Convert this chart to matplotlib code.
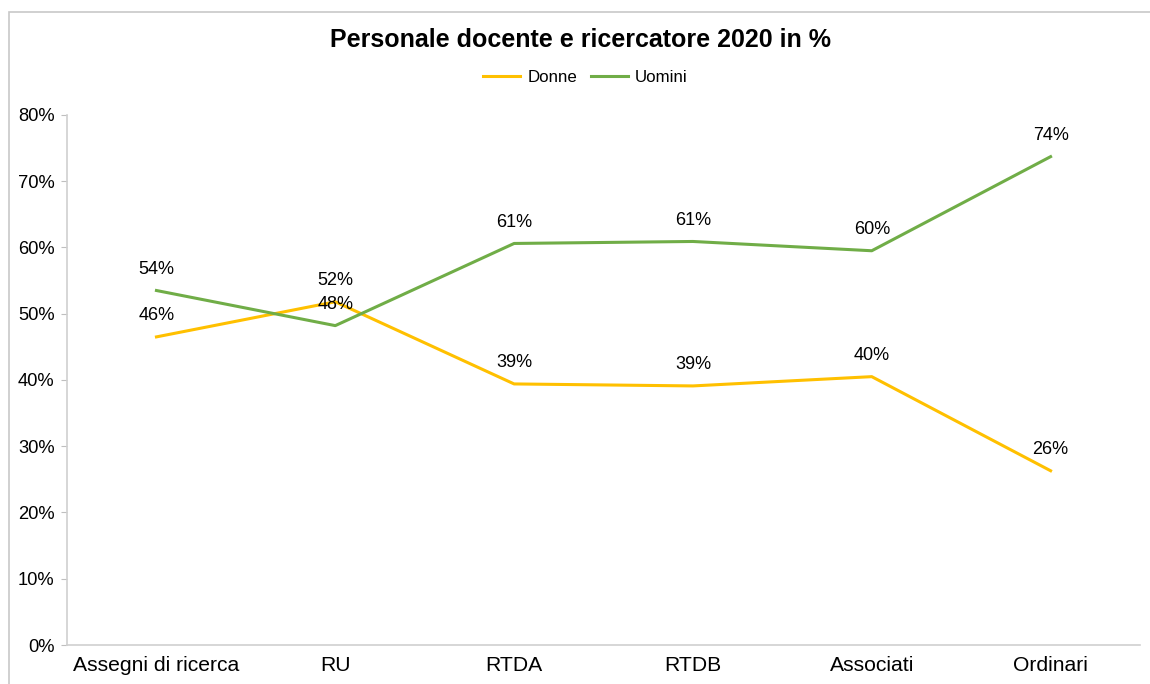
import matplotlib.pyplot as plt
from matplotlib.patches import Rectangle

plt.rcParams['font.family'] = ['Liberation Sans', 'DejaVu Sans']

# Dati
categorie = ['Assegni di ricerca', 'RU', 'RTDA', 'RTDB', 'Associati', 'Ordinari']
donne = [46.5, 51.8, 39.4, 39.1, 40.5, 26.3]
uomini = [53.5, 48.2, 60.6, 60.9, 59.5, 73.7]
etichette_donne = ['46%', '52%', '39%', '39%', '40%', '26%']
etichette_uomini = ['54%', '48%', '61%', '61%', '60%', '74%']

fig = plt.figure(figsize=(11.5, 6.84), dpi=100)
ax = fig.add_axes([0.0583, 0.057, 0.933, 0.775])

x = range(len(categorie))
ax.plot(x, donne, color='#FFC000', linewidth=2.2, label='Donne')
ax.plot(x, uomini, color='#70AD47', linewidth=2.2, label='Uomini')

# Etichette dati
for i in x:
    ax.annotate(etichette_donne[i], (i, donne[i]), xytext=(0, 9), textcoords='offset points',
                ha='center', va='bottom', fontsize=13)
    ax.annotate(etichette_uomini[i], (i, uomini[i]), xytext=(0, 9), textcoords='offset points',
                ha='center', va='bottom', fontsize=13)

ax.set_xlim(-0.5, len(categorie) - 0.5)
ax.set_ylim(0, 80)
ax.set_yticks(range(0, 81, 10))
ax.set_yticklabels([f'{v}%' for v in range(0, 81, 10)])
ax.set_xticks(list(x))
ax.set_xticklabels(categorie)
ax.tick_params(axis='y', labelsize=13.2, length=4, color='#BFBFBF', pad=5)
ax.tick_params(axis='x', labelsize=15.2, length=0, pad=8)

for lato in ['top', 'right']:
    ax.spines[lato].set_visible(False)
for lato in ['left', 'bottom']:
    ax.spines[lato].set_color('#D0D0D0')
    ax.spines[lato].set_linewidth(1.2)

fig.text(0.505, 0.942, 'Personale docente e ricercatore 2020 in %', ha='center', va='center',
         fontsize=18, fontweight='bold')
fig.legend(loc='center', bbox_to_anchor=(0.509, 0.887), ncol=2, frameon=False, fontsize=12.2,
           handlelength=2.2, columnspacing=0.8, handletextpad=0.4)

# Bordo del grafico
fig.patches.append(Rectangle((9 / 1150, -0.1), 1.2, 0.9825 + 0.1, transform=fig.transFigure,
                             fill=False, edgecolor='#C8C8C8', linewidth=1.2))

fig.savefig('out.png', dpi=100)
